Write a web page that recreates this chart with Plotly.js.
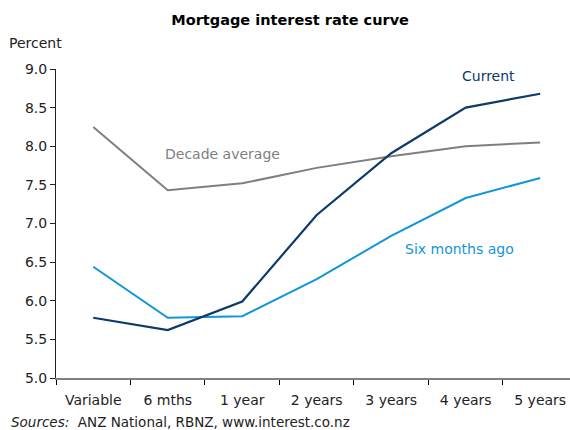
<!DOCTYPE html>
<html><head><meta charset="utf-8">
<script src="https://cdn.plot.ly/plotly-3.0.1.min.js"></script>
<style>body{margin:0;padding:0;background:#fff}#chart{width:570px;height:430px}</style>
</head><body><div id="chart"></div>
<script>
const categories = ["Variable", "6 mths", "1 year", "2 years", "3 years", "4 years", "5 years"];
const current = [5.78, 5.62, 5.99, 7.11, 7.91, 8.50, 8.68];
const sixMonthsAgo = [6.44, 5.78, 5.80, 6.28, 6.84, 7.33, 7.59];
const decadeAverage = [8.25, 7.43, 7.52, 7.72, 7.87, 8.00, 8.05];
const yTicks = [5.0, 5.5, 6.0, 6.5, 7.0, 7.5, 8.0, 8.5, 9.0];

const F = "'DejaVu Sans', Verdana, sans-serif";
const traces = [
  {x: categories, y: decadeAverage, mode: "lines", line: {color: "#7f7f7f", width: 2}, name: "Decade average"},
  {x: categories, y: sixMonthsAgo, mode: "lines", line: {color: "#1196d6", width: 2}, name: "Six months ago"},
  {x: categories, y: current, mode: "lines", line: {color: "#0c3a6b", width: 2.2}, name: "Current"}
];
const layout = {
  width: 570, height: 430,
  margin: {l: 56, r: 0, t: 69, b: 52},
  paper_bgcolor: "#fff", plot_bgcolor: "#fff",
  showlegend: false,
  font: {family: F, size: 14, color: "#222"},
  title: {text: "<b>Mortgage interest rate curve</b>", font: {family: F, size: 14.5, color: "#000"}, x: 0.509, xanchor: "center", y: 0.953, yanchor: "middle"},
  xaxis: {
    type: "category", range: [-0.5, 6.4], showgrid: false, zeroline: false,
    showline: true, linecolor: "#808080", linewidth: 2,
    ticks: "outside", tickson: "boundaries", ticklen: 5, tickcolor: "#000", tickwidth: 1,
    ticklabelstandoff: 8,
    tickfont: {family: F, size: 14, color: "#222"}, fixedrange: true
  },
  yaxis: {
    range: [5, 9], tickvals: yTicks, ticktext: yTicks.map(v => v.toFixed(1)),
    showgrid: false, zeroline: false, showline: true, linecolor: "#222", linewidth: 1,
    ticks: "outside", ticklen: 5, tickcolor: "#222",
    tickfont: {family: F, size: 14, color: "#222"}, fixedrange: true
  },
  annotations: [
    {text: "Percent", xref: "paper", yref: "paper", x: -0.095, y: 1.084, xanchor: "left", yanchor: "middle", showarrow: false, font: {family: F, size: 14, color: "#222"}},
    {text: "Current", xref: "x", yref: "y", x: 5.3, y: 8.91, showarrow: false, font: {family: F, size: 14, color: "#0c3a6b"}},
    {text: "Decade average", xref: "x", yref: "y", x: 1.74, y: 7.9, showarrow: false, font: {family: F, size: 14, color: "#7f7f7f"}},
    {text: "Six months ago", xref: "x", yref: "y", x: 4.91, y: 6.67, showarrow: false, font: {family: F, size: 14, color: "#1196d6"}},
    {text: "<i>Sources:</i>  ANZ National, RBNZ, www.interest.co.nz", xref: "paper", yref: "paper", x: -0.092, y: -0.141, xanchor: "left", yanchor: "middle", showarrow: false, font: {family: F, size: 13.5, color: "#222"}}
  ]
};
Plotly.newPlot("chart", traces, layout, {displayModeBar: false, staticPlot: true});
</script></body></html>
